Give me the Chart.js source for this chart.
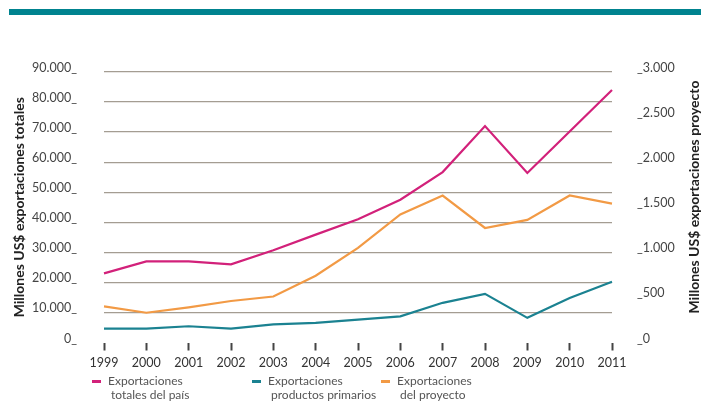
<!DOCTYPE html>
<html>
<head>
<meta charset="utf-8">
<script src="https://cdn.jsdelivr.net/npm/chart.js@4.4.1/dist/chart.umd.min.js"></script>
<style>
  html, body { margin: 0; padding: 0; background: #fff; }
  #wrap { position: relative; width: 701px; height: 415px; overflow: hidden; font-family: Lato, "Open Sans", sans-serif; }
  #topbar { position: absolute; left: 9px; top: 9px; right: 0; height: 6px; background: #00838f; }
  #chart { position: absolute; left: 0; top: 0; }
  .leg { position: absolute; color: #555; font-size: 12px; line-height: 14px; }
  .leg i { position: absolute; left: -16px; top: 6px; width: 9px; height: 3px; }
  .leg span { padding-left: 3px; }
</style>
</head>
<body>
<div id="wrap">
  <div id="topbar"></div>
  <canvas id="chart" width="701" height="415"></canvas>
  <div id="legend"></div>
</div>
<script>
// ---- data ----
const years = ['1999','2000','2001','2002','2003','2004','2005','2006','2007','2008','2009','2010','2011'];
const totales = [23000, 27000, 27000, 26000, 30700, 35900, 41000, 47500, 56700, 72000, 56400, 70200, 84000];
const primarios = [4600, 4600, 5400, 4600, 6000, 6500, 7600, 8700, 13200, 16200, 8200, 14800, 20200];
const proyecto = [400, 330, 390, 460, 510, 740, 1050, 1420, 1630, 1270, 1360, 1630, 1540];
const seriesNames = [['Exportaciones', 'totales del país'], ['Exportaciones', 'productos primarios'], ['Exportaciones', 'del proyecto']];
const colors = ['#d2217a', '#1b8291', '#f29a45'];

const fmt = v => v.toLocaleString('de-DE');
const tickFont = { family: 'Lato', size: 12.5 };

// right axis title reads upward, so draw it by hand
const rightTitle = {
    id: 'rightTitle',
    afterDraw(chart) {
        const c = chart.ctx;
        c.save();
        c.translate(699, 197);
        c.rotate(-Math.PI / 2);
        c.font = 'bold 14px Lato';
        c.fillStyle = '#222';
        c.textAlign = 'center';
        c.textBaseline = 'alphabetic';
        c.fillText('Millones US$ exportaciones proyecto', 0, 0);
        c.restore();
    }
};

new Chart(document.getElementById('chart'), {
    type: 'line',
    data: {
        labels: years,
        datasets: [
            { label: seriesNames[0].join(' '), data: totales, borderColor: colors[0], yAxisID: 'y' },
            { label: seriesNames[1].join(' '), data: primarios, borderColor: colors[1], yAxisID: 'y' },
            { label: seriesNames[2].join(' '), data: proyecto, borderColor: colors[2], yAxisID: 'y2' }
        ].map(d => ({ ...d, borderWidth: 2.2, pointRadius: 0, tension: 0, fill: false }))
    },
    options: {
        responsive: false,
        animation: false,
        layout: { padding: { top: 72, bottom: 39.5, left: 0, right: 0 } },
        plugins: { legend: { display: false }, tooltip: { enabled: false } },
        scales: {
            x: {
                offset: false,
                grid: { drawOnChartArea: false, drawTicks: true, tickLength: 8, tickWidth: 2, tickColor: '#444' },
                border: { display: false },
                ticks: { color: '#333', font: tickFont, padding: 5, maxRotation: 0, autoSkip: false }
            },
            y: {
                position: 'left',
                min: 0, max: 90000,
                afterFit: s => { s.width = 104; },
                grid: { drawTicks: false, lineWidth: 1.3, color: c => c.tick.value === 0 ? 'rgba(0,0,0,0)' : '#a49d92' },
                border: { display: false },
                ticks: { stepSize: 10000, color: '#444', font: tickFont, padding: 27, labelOffset: -4, callback: v => fmt(v) + '_' },
                title: { display: true, text: 'Millones US$ exportaciones totales', color: '#222', font: { family: 'Lato', size: 14, weight: 'bold' }, padding: { top: 11, bottom: 0 } }
            },
            y2: {
                position: 'right',
                min: 0, max: 3000,
                afterFit: s => { s.width = 89; },
                grid: { drawOnChartArea: false, drawTicks: false },
                border: { display: false },
                ticks: { stepSize: 500, color: '#444', font: tickFont, padding: 25, labelOffset: -4, callback: v => '_' + fmt(v) }
            }
        }
    },
    plugins: [rightTitle]
});

// legend
const legX = [108, 268, 397];
const legend = document.getElementById('legend');
seriesNames.forEach((name, i) => {
    const d = document.createElement('div');
    d.className = 'leg';
    d.style.left = legX[i] + 'px';
    d.style.top = '374px';
    d.innerHTML = '<i style="background:' + colors[i] + '"></i>' + name[0] + '<br><span>' + name[1] + '</span>';
    legend.appendChild(d);
});
</script>
</body>
</html>
